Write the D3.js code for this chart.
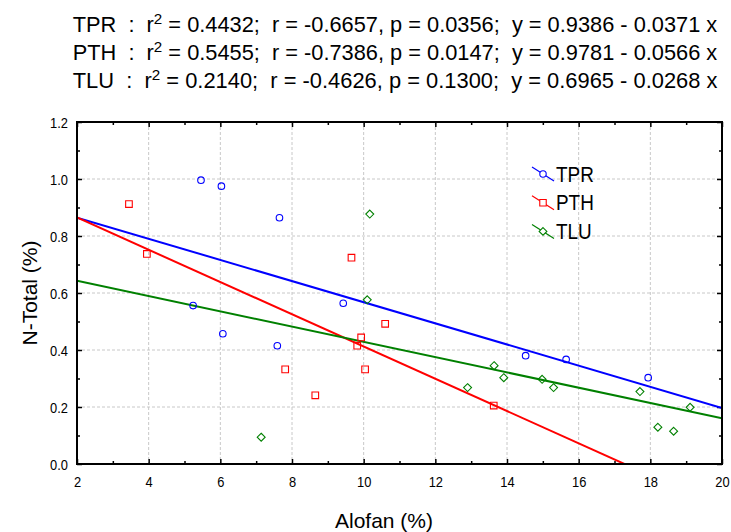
<!DOCTYPE html>
<html>
<head>
<meta charset="utf-8">
<script src="https://cdn.jsdelivr.net/npm/d3@7"></script>
<style>
  body { margin: 0; background: #fff; }
  text { font-family: "Liberation Sans", Arial, sans-serif; fill: #000; }
</style>
</head>
<body>
<div class="chart"></div>
<script>
var width = 731, height = 532;

// series info
var seriesNames = ["TPR", "PTH", "TLU"];
var seriesColors = ["#0000ff", "#ff0000", "#008000"];
var r2Values = ["0.4432", "0.5455", "0.2140"];
var rValues = ["-0.6657", "-0.7386", "-0.4626"];
var pValues = ["0.0356", "0.0147", "0.1300"];
var intercepts = [0.9386, 0.9781, 0.6965];
var slopes = [-0.0371, -0.0566, -0.0268];

// points
var tprX = [5.46, 6.03, 7.65, 9.43, 5.24, 6.07, 7.59, 14.52, 15.65, 17.94];
var tprY = [0.996, 0.975, 0.864, 0.564, 0.556, 0.457, 0.415, 0.380, 0.367, 0.303];
var pthX = [3.45, 3.95, 9.66, 7.81, 8.65, 9.82, 9.93, 10.04, 10.60, 13.63];
var pthY = [0.912, 0.737, 0.724, 0.332, 0.241, 0.415, 0.444, 0.332, 0.492, 0.205];
var tluX = [10.17, 10.10, 7.14, 12.90, 13.64, 13.91, 14.98, 15.30, 17.71, 18.21, 18.65, 19.11];
var tluY = [0.877, 0.576, 0.094, 0.268, 0.345, 0.303, 0.297, 0.268, 0.254, 0.129, 0.115, 0.199];

var xTicks = [2, 4, 6, 8, 10, 12, 14, 16, 18, 20];
var yTicks = [0, 0.2, 0.4, 0.6, 0.8, 1.0, 1.2];

var plotLeft = 77, plotRight = 722, plotTop = 122, plotBottom = 464;
var squeeze = 0.86;

function drawGraph() {
    var svg = d3.select('.chart')
        .append('svg')
        .attr('width', width)
        .attr('height', height);

    var x = d3.scaleLinear().domain([2, 20]).range([plotLeft, plotRight]);
    var y = d3.scaleLinear().domain([0, 1.2]).range([plotBottom, plotTop]);

    svg.append('clipPath').attr('id', 'plotClip')
        .append('rect')
        .attr('x', plotLeft).attr('y', plotTop)
        .attr('width', plotRight - plotLeft).attr('height', plotBottom - plotTop);

    // dashed grid
    svg.append('g').selectAll('line')
        .data(xTicks.slice(1, -1))
        .enter().append('line')
        .attr('x1', function(d) { return x(d); }).attr('x2', function(d) { return x(d); })
        .attr('y1', plotTop).attr('y2', plotBottom)
        .attr('stroke', '#c8c8c8').attr('stroke-dasharray', '3,2');
    svg.append('g').selectAll('line')
        .data(yTicks.slice(1, -1))
        .enter().append('line')
        .attr('y1', function(d) { return y(d); }).attr('y2', function(d) { return y(d); })
        .attr('x1', plotLeft).attr('x2', plotRight)
        .attr('stroke', '#c8c8c8').attr('stroke-dasharray', '3,2');

    // axes with inward ticks
    var minorX = d3.range(3, 20, 2);
    var minorY = d3.range(1, 12, 2).map(function(d) { return d / 10; });

    var xAxis = svg.append('g').attr('transform', 'translate(0,' + plotBottom + ')')
        .call(d3.axisBottom(x).tickValues(xTicks).tickSize(-5).tickFormat(d3.format('d')));
    svg.append('g').attr('transform', 'translate(0,' + plotBottom + ')')
        .call(d3.axisBottom(x).tickValues(minorX).tickSize(-3).tickFormat(''));
    svg.append('g').attr('transform', 'translate(0,' + plotTop + ')')
        .call(d3.axisTop(x).tickValues(xTicks).tickSize(-5).tickFormat(''));
    svg.append('g').attr('transform', 'translate(0,' + plotTop + ')')
        .call(d3.axisTop(x).tickValues(minorX).tickSize(-3).tickFormat(''));

    var yAxis = svg.append('g').attr('transform', 'translate(' + plotLeft + ',0)')
        .call(d3.axisLeft(y).tickValues(yTicks).tickSize(-5).tickFormat(d3.format('.1f')));
    svg.append('g').attr('transform', 'translate(' + plotLeft + ',0)')
        .call(d3.axisLeft(y).tickValues(minorY).tickSize(-3).tickFormat(''));
    svg.append('g').attr('transform', 'translate(' + plotRight + ',0)')
        .call(d3.axisRight(y).tickValues(yTicks).tickSize(-5).tickFormat(''));
    svg.append('g').attr('transform', 'translate(' + plotRight + ',0)')
        .call(d3.axisRight(y).tickValues(minorY).tickSize(-3).tickFormat(''));

    svg.selectAll('.domain').remove();
    svg.selectAll('.tick line').attr('stroke', '#000').attr('stroke-width', 1.5);

    xAxis.selectAll('text')
        .style('font-size', '15px').attr('y', 0).attr('dy', 0)
        .attr('transform', 'translate(0,23) scale(' + squeeze + ',1)');
    yAxis.selectAll('text')
        .style('font-size', '15px').attr('x', 0).attr('dy', 0)
        .attr('text-anchor', 'end')
        .attr('transform', 'translate(-9,5.5) scale(' + squeeze + ',1)');

    // regression lines
    var line = d3.line().x(function(d) { return x(d[0]); }).y(function(d) { return y(d[1]); });
    var fits = svg.append('g').attr('clip-path', 'url(#plotClip)');
    seriesNames.forEach(function(name, i) {
        var ends = [2, 20].map(function(v) { return [v, intercepts[i] + slopes[i] * v]; });
        fits.append('path')
            .attr('d', line(ends))
            .attr('fill', 'none')
            .attr('stroke', seriesColors[i])
            .attr('stroke-width', 2);
    });

    // markers
    var symbols = [d3.symbolCircle, d3.symbolSquare, d3.symbolDiamond2];
    var sizes = [34, 44, 40];
    var xs = [tprX, pthX, tluX], ys = [tprY, pthY, tluY];
    seriesNames.forEach(function(name, i) {
        svg.append('g').selectAll('path')
            .data(xs[i].map(function(v, k) { return [v, ys[i][k]]; }))
            .enter().append('path')
            .attr('d', d3.symbol().type(symbols[i]).size(sizes[i]))
            .attr('transform', function(d) { return 'translate(' + x(d[0]) + ',' + y(d[1]) + ')'; })
            .attr('fill', 'none')
            .attr('stroke', seriesColors[i])
            .attr('stroke-width', 1.1);
    });

    // frame
    svg.append('rect')
        .attr('x', plotLeft).attr('y', plotTop)
        .attr('width', plotRight - plotLeft).attr('height', plotBottom - plotTop)
        .attr('fill', 'none').attr('stroke', '#000').attr('stroke-width', 2);

    // legend
    var legend = svg.append('g').attr('transform', 'translate(543,174)');
    seriesNames.forEach(function(name, i) {
        var row = legend.append('g').attr('transform', 'translate(0,' + (i * 28.7) + ')');
        row.append('line')
            .attr('x1', -11).attr('y1', -7).attr('x2', 11).attr('y2', 7)
            .attr('stroke', seriesColors[i]).attr('stroke-width', 1.2);
        row.append('path')
            .attr('d', d3.symbol().type(symbols[i]).size(sizes[i] * 0.95))
            .attr('fill', '#fff')
            .attr('stroke', seriesColors[i])
            .attr('stroke-width', 1.1);
        row.append('text')
            .attr('transform', 'translate(13,7.5) scale(0.88,1)')
            .style('font-size', '21.5px')
            .text(name);
    });

    // header lines
    var header = svg.append('g');
    seriesNames.forEach(function(name, i) {
        var t = header.append('text')
            .attr('x', 0).attr('y', 0)
            .style('font-size', '21.5px')
            .style('white-space', 'pre');
        t.append('tspan').text(name + '  :  r');
        t.append('tspan').attr('dy', -8).style('font-size', '15px').text('2');
        t.append('tspan').attr('dy', 8)
            .text(' = ' + r2Values[i] + ';  r = ' + rValues[i] + ', p = ' + pValues[i] +
                  ';  y = ' + intercepts[i].toFixed(4) + ' - ' + Math.abs(slopes[i]).toFixed(4) + ' x');
        var w = t.node().getComputedTextLength();
        t.attr('transform', 'translate(72.7,' + (31.7 + i * 28.3) + ') scale(' + (645 / w) + ',1)');
    });

    // axis titles
    svg.append('text')
        .attr('x', 384).attr('y', 528)
        .attr('text-anchor', 'middle')
        .style('font-size', '21px')
        .text('Alofan (%)');
    svg.append('text')
        .attr('transform', 'translate(37,' + ((plotTop + plotBottom) / 2) + ') rotate(-90)')
        .attr('text-anchor', 'middle')
        .style('font-size', '21px')
        .text('N-Total (%)');
}

drawGraph();
</script>
</body>
</html>
